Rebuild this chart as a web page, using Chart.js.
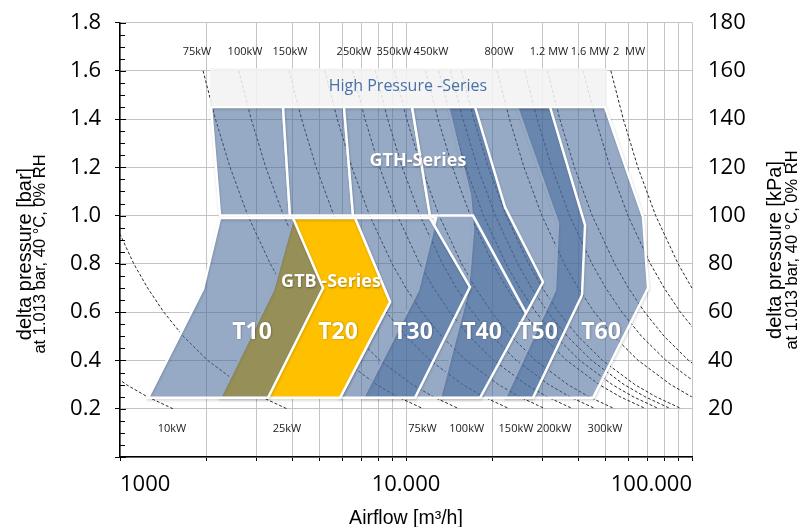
<!DOCTYPE html>
<html><head><meta charset="utf-8">
<script src="https://cdn.jsdelivr.net/npm/chart.js@4.4.0/dist/chart.umd.min.js"></script>
<style>html,body{margin:0;padding:0;background:#fff;overflow:hidden}</style>
</head><body>
<canvas id="c" width="799" height="527" style="width:799px;height:527px;display:block"></canvas>
<script>
// ---------- axes ----------
const xTickValues = [1000,2000,3000,4000,5000,6000,7000,8000,9000,10000,20000,30000,40000,50000,60000,70000,80000,90000,100000];
const xLabelValues = [1000,10000,100000];
const xLabelTexts = ['1000','10.000','100.000'];
const yTickValues = [0,0.2,0.4,0.6,0.8,1.0,1.2,1.4,1.6,1.8];
const y2TickValues = [0,20,40,60,80,100,120,140,160,180];

// ---------- power curves (airflow m3/h at given delta p) ----------
const curveP = [1.6,1.4,1.2,1.0,0.8,0.7,0.6,0.5,0.4,0.3,0.25,0.2];
const q10kW   = [260,288,323,373,447,500,569,666,811,1052,1244,1531];
const q25kW   = [651,719,809,933,1118,1249,1423,1665,2027,2630,3110,3828];
const q75kW   = [1952,2156,2426,2799,3355,3748,4269,4995,6081,7890,9330,11480];
const q100kW  = [2602,2875,3234,3732,4473,4997,5692,6660,8108,10520,12440,15310];
const q150kW  = [3903,4313,4851,5598,6710,7496,8538,9990,12160,15780,18660,22970];
const q200kW  = [5204,5750,6468,7464,8946,9994,11380,13320,16220,21040,24880,30620];
const q250kW  = [6505,7188,8085,9330,11180,12490,14230,16650,20270,26300,31100,38280];
const q300kW  = [7806,8625,9702,11200,13420,14990,17080,19980,24320,31560,37320,45930];
const q350kW  = [9107,10060,11320,13060,15660,17490,19920,23310,28380,36820,43540,53590];
const q450kW  = [11710,12940,14550,16790,20130,22490,25610,29970,36490,47340,55980,68900];
const q500kW  = [13010,14380,16170,18660,22370,24990,28460,33300,40540,52600,62200,76550];
const q550kW  = [14310,15810,17790,20530,24600,27480,31310,36630,44590,57860,68420,84210];
const q600kW  = [15610,17250,19400,22390,26840,29980,34150,39960,48650,63120,74640,91860];
const q800kW  = [20820,23000,25870,29860,35780,39980,45540,53280,64860,84160,99520,122500];
const q1000kW = [26020,28750,32340,37320,44730,49970,56920,66600,81080,105200,124400,153100];
const q1200kW = [31220,34500,38810,44780,53680,59960,68300,79920,97300,126200,149300,183700];
const q1600kW = [41630,46000,51740,59710,71570,79950,91070,106600,129700,168300,199000,245000];
const q2000kW = [52040,57500,64680,74640,89460,99940,113800,133200,162200,210400,248800,306200];
const curveList = [q10kW,q25kW,q75kW,q100kW,q150kW,q200kW,q250kW,q300kW,q350kW,q450kW,q500kW,q550kW,q600kW,q800kW,q1000kW,q1200kW,q1600kW,q2000kW];

const topPowerLabels = ['75kW','100kW','150kW','250kW','350kW','450kW','800W','1.2 MW','1.6 MW','2  MW'];
const topPowerLabelQ = [1858,2736,3929,6579,9078,12230,21150,31620,44000,60220];
const topPowerLabelP = 1.68;
const bottomPowerLabels = ['10kW','25kW','75kW','100kW','150kW','200kW','300kW'];
const bottomPowerLabelQ = [1520,3836,11420,16300,24240,32920,49640];
const bottomPowerLabelP = 0.116;

// ---------- series areas [airflow, delta p] ----------
const bandHP = [[2064,1.61],[50440,1.61],[50440,1.45],[2064,1.45]];
const gthA = [[2081,1.45],[3715,1.45],[3929,1.0],[2237,1.0]];
const gthB = [[3715,1.45],[6070,1.45],[6527,1.0],[3929,1.0]];
const gthC = [[6070,1.45],[10500,1.45],[12130,1.0],[6527,1.0]];
const areaT60 = [[24440,1.45],[49640,1.45],[67410,0.994],[70190,0.70],[45070,0.245],[22190,0.245],[33190,0.692],[34000,0.969]];
const areaT50 = [[14030,1.45],[31880,1.45],[42260,0.961],[41250,0.671],[27800,0.245],[13150,0.245],[16480,0.692],[17150,0.94],[16740,1.085]];
const areaT40 = [[10500,1.45],[17430,1.45],[22190,1.035],[30130,0.725],[18150,0.245],[7074,0.245],[11020,0.692],[12730,0.99],[12130,1.0]];
const dividerT40 = [[12130,1.0],[17150,1.0],[26280,0.596]];
const areaT30 = [[6633,0.99],[12130,0.99],[16740,0.704],[10750,0.245],[5878,0.245],[8792,0.642]];
const areaT20 = [[4026,0.99],[6633,0.99],[8792,0.642],[5878,0.245],[2237,0.245],[3428,0.692]];
const areaT10 = [[2237,0.99],[4026,0.99],[5127,0.70],[3292,0.245],[1253,0.245],[1951,0.696]];

const seriesNames = ['T10','T20','T30','T40','T50','T60'];
const seriesLabelQ = [2894,5783,10580,18440,28940,48070];
const seriesLabelP = 0.518;
const groupNames = ['High Pressure -Series','GTH-Series','GTB -Series'];
const groupLabelQ = [10160,11010,5468];
const groupLabelP = [1.536,1.226,0.725];

// ---------- build datasets ----------
const BLUE = 'rgba(70,105,155,0.57)';
const datasets = [];
curveList.forEach((q,i)=>{
  datasets.push({label:'curve'+i, data:q.map((v,j)=>({x:v,y:curveP[j]})), borderColor:'#2a2a2a', borderWidth:1,
    borderDash:[3,2], pointRadius:0, fill:false, order:200, tension:0});
});
function addArea(name, pts, color, order, bw){
  const d = pts.map(p=>({x:p[0],y:p[1]}));
  d.push({x:pts[0][0],y:pts[0][1]});
  datasets.push({label:name, data:d, fill:'shape', backgroundColor:color, borderColor:'#ffffff',
    borderWidth:bw, pointRadius:0, tension:0, order:order, borderJoinStyle:'miter', shadow:true});
}
addArea('band', bandHP, 'rgba(242,242,242,0.88)', 150, 0);
addArea('gthA', gthA, BLUE, 100, 2.5);
addArea('gthB', gthB, BLUE, 99, 2.5);
addArea('gthC', gthC, BLUE, 98, 2.5);
addArea('T60', areaT60, BLUE, 60, 2.5);
addArea('T50', areaT50, BLUE, 50, 2.5);
addArea('T40', areaT40, BLUE, 40, 2.5);
datasets.push({label:'div', data:dividerT40.map(p=>({x:p[0],y:p[1]})), borderColor:'#fff', borderWidth:2.5,
  pointRadius:0, fill:false, order:35, tension:0});
addArea('T30', areaT30, BLUE, 30, 2.5);
addArea('T20', areaT20, '#ffc000', 20, 2.5);
addArea('T10', areaT10, BLUE, 10, 2.5);

const isMajor = v => Math.abs(v/0.2 - Math.round(v/0.2)) < 1e-6;

const deco = {
  id:'deco',
  beforeDatasetDraw(chart, args){
    if (args.meta && chart.data.datasets[args.index].shadow) {
      const c = chart.ctx; c.save();
      c.shadowColor='rgba(0,0,0,0.18)'; c.shadowBlur=2.5; c.shadowOffsetX=0.5; c.shadowOffsetY=1.5;
    }
  },
  afterDatasetDraw(chart, args){
    if (args.meta && chart.data.datasets[args.index].shadow) chart.ctx.restore();
  },
  afterDatasetsDraw(chart){
    const {ctx, scales:{x,y}} = chart;
    ctx.save();
    ctx.textAlign='center'; ctx.textBaseline='middle';
    ctx.fillStyle='#1a1a1a'; ctx.font='11px "Open Sans"';
    topPowerLabels.forEach((t,i)=>ctx.fillText(t, x.getPixelForValue(topPowerLabelQ[i]), y.getPixelForValue(topPowerLabelP)));
    bottomPowerLabels.forEach((t,i)=>ctx.fillText(t, x.getPixelForValue(bottomPowerLabelQ[i]), y.getPixelForValue(bottomPowerLabelP)));
    ctx.fillStyle='#4a70a8'; ctx.font='16px "Open Sans"';
    ctx.fillText(groupNames[0], x.getPixelForValue(groupLabelQ[0]), y.getPixelForValue(groupLabelP[0]));
    ctx.fillStyle='#ffffff'; ctx.font='bold 18px "Open Sans"';
    ctx.shadowColor='rgba(0,0,0,0.35)'; ctx.shadowBlur=2; ctx.shadowOffsetX=0.5; ctx.shadowOffsetY=0.5;
    ctx.fillText(groupNames[1], x.getPixelForValue(groupLabelQ[1]), y.getPixelForValue(groupLabelP[1]));
    ctx.fillText(groupNames[2], x.getPixelForValue(groupLabelQ[2]), y.getPixelForValue(groupLabelP[2]));
    ctx.font='bold 23px "Open Sans"';
    seriesNames.forEach((t,i)=>ctx.fillText(t, x.getPixelForValue(seriesLabelQ[i]), y.getPixelForValue(seriesLabelP)));
    ctx.restore();
  },
  afterDraw(chart){
    const {ctx, chartArea:a, scales:{y}} = chart;
    ctx.save();
    ctx.strokeStyle='#000'; ctx.lineWidth=1;
    for(let i=0;i<=36;i++){
      const v=i*0.05, py=Math.round(y.getPixelForValue(v))+0.5;
      ctx.beginPath(); ctx.moveTo(a.left, py); ctx.lineTo(a.left + (isMajor(v)?6:5), py); ctx.stroke();
    }
    ctx.fillStyle='#000';
    const vText=(t,px,py,font)=>{ctx.save();ctx.translate(px,py);ctx.rotate(-Math.PI/2);ctx.font=font;ctx.textAlign='center';ctx.textBaseline='alphabetic';ctx.fillText(t,0,0);ctx.restore();};
    vText('delta pressure [bar]', 31, 254, '20px "Liberation Sans"');
    vText('at 1.013 bar, 40 °C, 0% RH', 45, 254, '16.5px "Liberation Sans"');
    vText('delta pressure [kPa]', 781, 250, '20px "Liberation Sans"');
    vText('at 1.013 bar, 40 °C, 0% RH', 797, 250, '16.5px "Liberation Sans"');
    ctx.font='19.5px "Liberation Sans"'; ctx.textAlign='center'; ctx.textBaseline='alphabetic';
    ctx.fillText('Airflow [m³/h]', (a.left+a.right)/2, 524);
    ctx.restore();
  }
};

new Chart(document.getElementById('c'), {
  type:'line',
  data:{datasets},
  plugins:[deco],
  options:{
    responsive:false, animation:false, events:[],
    layout:{padding:{top:22.5,left:0,right:0,bottom:0}},
    plugins:{legend:{display:false}, tooltip:{enabled:false}},
    scales:{
      x:{type:'logarithmic', min:1000, max:100000, position:'bottom',
        afterBuildTicks:s=>{s.ticks=xTickValues.map(v=>({value:v}));},
        afterFit:s=>{s.height=70; s.paddingLeft=0; s.paddingRight=0;},
        ticks:{autoSkip:false, maxRotation:0, align:'inner', padding:11, color:'#000',
          font:{family:'Open Sans', size:22},
          callback:v=>{const i=xLabelValues.indexOf(v); return i>=0?xLabelTexts[i]:'';}},
        grid:{color:'#c4c4c4', lineWidth:1, tickColor:'#000', tickLength:4},
        border:{color:'#000', width:1.5}},
      y:{type:'linear', min:0, max:1.8, position:'left',
        afterBuildTicks:s=>{s.ticks=yTickValues.map(v=>({value:v}));},
        afterFit:s=>{s.width=120; s.paddingTop=0; s.paddingBottom=0;},
        ticks:{autoSkip:false, padding:14, color:'#000', font:{family:'Open Sans', size:22},
          callback:v=>v===0?'':Number(v).toFixed(1)},
        grid:{color:'#c4c4c4', lineWidth:1, tickColor:'#000', tickLength:5},
        border:{color:'#000', width:1.5}},
      y2:{type:'linear', min:0, max:180, position:'right',
        afterBuildTicks:s=>{s.ticks=y2TickValues.map(v=>({value:v}));},
        afterFit:s=>{s.width=107; s.paddingTop=0; s.paddingBottom=0;},
        ticks:{autoSkip:false, padding:16, color:'#000', font:{family:'Open Sans', size:22},
          callback:v=>v===0?'':String(v)},
        grid:{drawOnChartArea:false, drawTicks:false}, border:{display:false}}
    }
  }
});
</script>
</body></html>
